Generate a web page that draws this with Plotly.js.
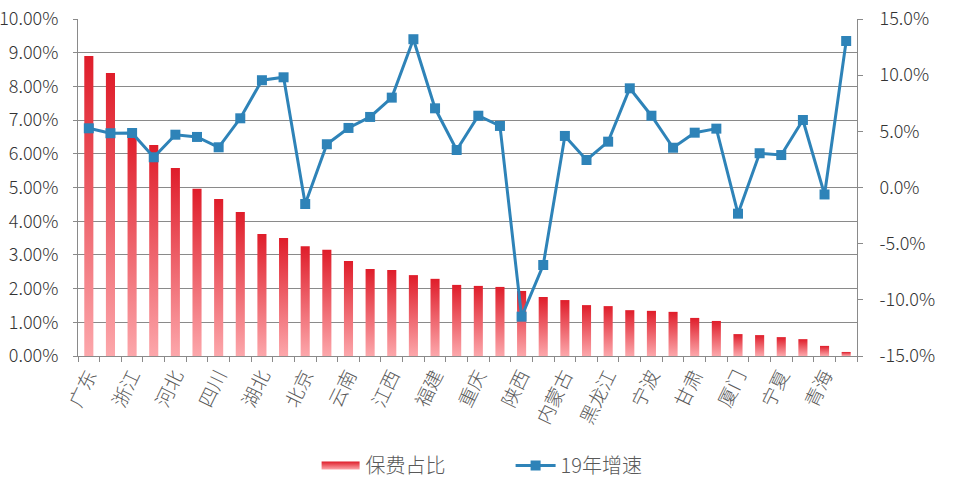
<!DOCTYPE html>
<html>
<head>
<meta charset="utf-8">
<script src="https://cdn.plot.ly/plotly-3.0.1.min.js"></script>
<style>
html,body{margin:0;padding:0;background:#fff;}
#chart{width:961px;height:501px;}
</style>
</head>
<body>
<div id="chart"></div>
<script>
// Regions (31 provinces + 5 separately-planned cities); only every other label is shown in the original
const regions = ["广东","江苏","浙江","山东","河北","河南","四川","湖南","湖北","上海",
  "北京","安徽","云南","广西","江西","深圳","福建","山西","重庆","辽宁",
  "陕西","贵州","内蒙古","新疆","黑龙江","吉林","宁波","天津","甘肃","青岛",
  "厦门","大连","宁夏","海南","青海","西藏"];
// 保费占比 (%), left axis
const premiumShare = [8.90,8.40,6.65,6.26,5.58,4.96,4.66,4.27,3.62,3.50,
  3.26,3.15,2.82,2.58,2.55,2.40,2.29,2.11,2.08,2.05,
  1.93,1.75,1.66,1.51,1.48,1.36,1.34,1.31,1.13,1.04,
  0.65,0.62,0.56,0.50,0.30,0.12];
// 19年增速 (%), right axis
const growth2019 = [5.27,4.83,4.85,2.69,4.70,4.50,3.58,6.16,9.55,9.81,
  -1.47,3.85,5.30,6.28,8.00,13.20,7.05,3.34,6.39,5.48,
  -11.5,-6.90,4.59,2.45,4.08,8.83,6.39,3.54,4.88,5.24,
  -2.33,3.05,2.89,6.01,-0.62,13.04];
// Tick labels
const xTickLabels = regions.map((r, i) => (i % 2 === 0 ? r : ""));
const leftTicks = [0,1,2,3,4,5,6,7,8,9,10];
const rightTicks = [-15,-10,-5,0,5,10,15];

const FONT = '"Noto Sans CJK SC", "Noto Sans", sans-serif';
const GRID = '#8a8a8a';
const BLUE = '#2e83b8';

const traces = [
  {
    type: 'bar', name: '保费占比', x: regions, y: premiumShare,
    marker: {color: '#ee5a62', line: {width: 0}},
    yaxis: 'y'
  },
  {
    type: 'scatter', mode: 'lines+markers', name: '19年增速', x: regions, y: growth2019,
    yaxis: 'y2',
    line: {color: BLUE, width: 3},
    marker: {symbol: 'square', size: 10, color: BLUE}
  }
];

const layout = {
  width: 961, height: 501,
  margin: {l: 78, r: 104, t: 19, b: 145},
  paper_bgcolor: '#fff', plot_bgcolor: '#fff',
  font: {family: FONT, color: '#333333', size: 17},
  bargap: 0.58,
  showlegend: true,
  legend: {
    orientation: 'h', x: 0.305, xanchor: 'left', y: -0.325, yanchor: 'middle',
    font: {family: FONT, size: 20, color: '#595959', weight: 300},
    itemwidth: 40, traceorder: 'normal',
    entrywidth: 140, entrywidthmode: 'pixels'
  },
  xaxis: {
    type: 'category',
    tickmode: 'array', tickvals: regions, ticktext: xTickLabels,
    tickson: 'boundaries',
    tickangle: -64,
    ticks: 'outside', ticklen: 5, tickcolor: GRID,
    showline: true, linecolor: GRID, linewidth: 1,
    showgrid: false, zeroline: false,
    tickfont: {family: FONT, size: 19, color: '#595959', weight: 300},
    range: [-0.5, regions.length - 0.5]
  },
  yaxis: {
    range: [0, 10],
    tickmode: 'array', tickvals: leftTicks, ticktext: leftTicks.map(v => v.toFixed(2) + '%'),
    ticks: 'outside', ticklen: 4, tickcolor: GRID,
    ticklabelstandoff: 11,
    showline: true, linecolor: GRID, linewidth: 1,
    showgrid: true, gridcolor: GRID, gridwidth: 1, zeroline: false,
    tickfont: {family: FONT, size: 18, color: '#333333', weight: 300}
  },
  yaxis2: {
    overlaying: 'y', side: 'right',
    range: [-15, 15],
    tickmode: 'array', tickvals: rightTicks, ticktext: rightTicks.map(v => v.toFixed(1) + '%'),
    ticks: 'outside', ticklen: 5, tickcolor: GRID,
    ticklabelstandoff: 13,
    showline: true, linecolor: GRID, linewidth: 1,
    showgrid: false, zeroline: false,
    tickfont: {family: FONT, size: 18, color: '#333333', weight: 300}
  }
};

const gd = document.getElementById('chart');
Plotly.newPlot(gd, traces, layout, {staticPlot: true, displayModeBar: false}).then(() => {
  // vertical red gradient for the bars (as in the original)
  const svgNS = 'http://www.w3.org/2000/svg';
  const svg = gd.querySelector('svg.main-svg');
  let defs = svg.querySelector('defs');
  if (!defs) { defs = document.createElementNS(svgNS, 'defs'); svg.insertBefore(defs, svg.firstChild); }
  const grad = document.createElementNS(svgNS, 'linearGradient');
  grad.setAttribute('id', 'barGrad');
  grad.setAttribute('x1', '0'); grad.setAttribute('y1', '0');
  grad.setAttribute('x2', '0'); grad.setAttribute('y2', '1');
  [['0', '#df1d2a'], ['1', '#fca7ab']].forEach(([o, c]) => {
    const s = document.createElementNS(svgNS, 'stop');
    s.setAttribute('offset', o); s.setAttribute('stop-color', c);
    grad.appendChild(s);
  });
  defs.appendChild(grad);
  gd.querySelectorAll('.barlayer .point path').forEach(p => { p.style.fill = 'url(#barGrad)'; });
  const legTraces = gd.querySelectorAll('.legend .traces');
  if (legTraces.length) {
    const lp = legTraces[0].querySelector('.legendpoints path');
    if (lp) { lp.setAttribute('d', 'M19,4H-19V-4H19Z'); lp.style.fill = 'url(#barGrad)'; lp.style.stroke = 'none'; }
  }
});
</script>
</body>
</html>
